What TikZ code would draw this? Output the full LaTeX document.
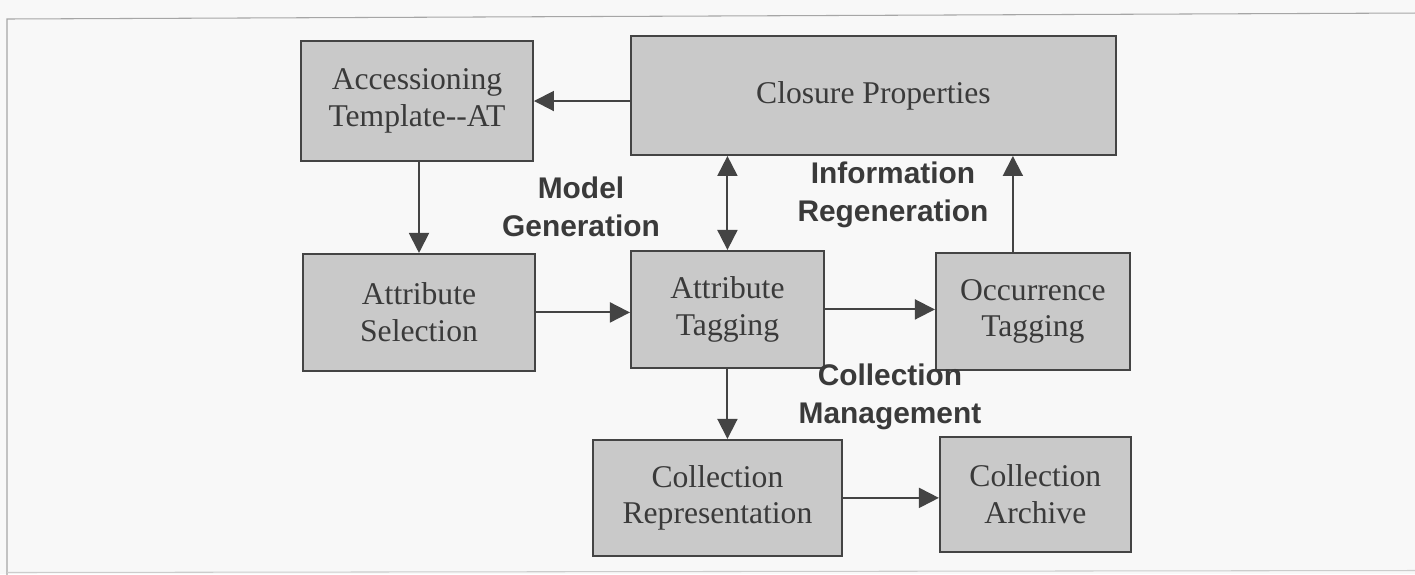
\documentclass[tikz,border=0pt]{standalone}
\usepackage{fontspec}
\setmainfont{Liberation Serif}
\setsansfont{Liberation Sans}
\usepackage{tikz}
\usetikzlibrary{arrows.meta,positioning}
\usepackage{xcolor}
\definecolor{boxfill}{RGB}{201,201,201}
\definecolor{boxline}{RGB}{68,68,68}
\definecolor{inkgray}{RGB}{58,58,58}
\definecolor{paper}{RGB}{248,248,248}

\begin{document}
\begin{tikzpicture}[%
    >={Triangle[length=0.4cm,width=0.4cm]},
    blk/.style={rectangle, draw=boxline, fill=boxfill, line width=1.1pt, minimum height=2.34cm,
      align=center, text=inkgray, font=\fontsize{18}{21}\selectfont},
    flow/.style={->, line width=1.1pt, draw=boxline},
    phase/.style={font=\sffamily\bfseries\fontsize{17}{21.5}\selectfont, text=inkgray, align=center},
    frame/.style={draw=black!35, line width=0.6pt},
  ]
  \fill[paper] (0,0) rectangle (28.3,-11.48);
  \useasboundingbox (0,0) rectangle (28.3,-11.48);
  \draw[frame] (28.4,-0.26) -- (0.14,-0.38) -- (0.14,-11.5);
  \draw[frame, draw=black!20] (0.14,-11.45) -- (28.3,-11.41);

  % --- boxes ---
  \node[blk, minimum width=4.64cm, minimum height=2.4cm] (at) at (8.34,-2.02) {Accessioning\\Template-{}-AT};
  \node[blk, right=1.92cm of at, yshift=0.11cm, minimum width=9.7cm, minimum height=2.38cm] (cp) {Closure Properties};
  \node[blk, below=1.82cm of at, xshift=0.04cm, minimum width=4.64cm] (as) {Attribute\\Selection};
  \node[blk, right=1.88cm of as, yshift=0.06cm, minimum width=3.86cm] (tag) {Attribute\\Tagging};
  \node[blk, right=2.2cm of tag, yshift=-0.04cm, minimum width=3.88cm] (occ) {Occurrence\\Tagging};
  \node[blk, below=1.4cm of tag, xshift=-0.2cm, minimum width=4.98cm, minimum height=2.32cm] (rep) {Collection\\Representation};
  \node[blk, right=1.92cm of rep, yshift=0.07cm, minimum width=3.82cm, minimum height=2.3cm] (arc) {Collection\\Archive};

  % --- phase labels ---
  \node[phase] (mg) at (11.62,-4.14) {Model\\Generation};
  \node[phase] (ir) at (17.86,-3.9) {Information\\Regeneration};
  \node[phase] (cm) at (17.8,-7.94) {Collection\\Management};

  % --- connectors ---
  \draw[flow] (cp.west |- at.east) -- (at.east);
  \draw[flow] (at.south -| as.north) -- (as.north);
  \draw[flow] (as.east) -- (tag.west |- as.east);
  \draw[flow, <->] (tag.north) -- (tag.north |- cp.south);
  \draw[flow] (tag.east) -- (occ.west |- tag.east);
  \draw[flow] ([xshift=-0.4cm]occ.north) -- ([xshift=-0.4cm]occ.north |- cp.south);
  \draw[flow] (tag.south) -- (tag.south |- rep.north);
  \draw[flow] (rep.east) -- (arc.west |- rep.east);
\end{tikzpicture}
\end{document}
